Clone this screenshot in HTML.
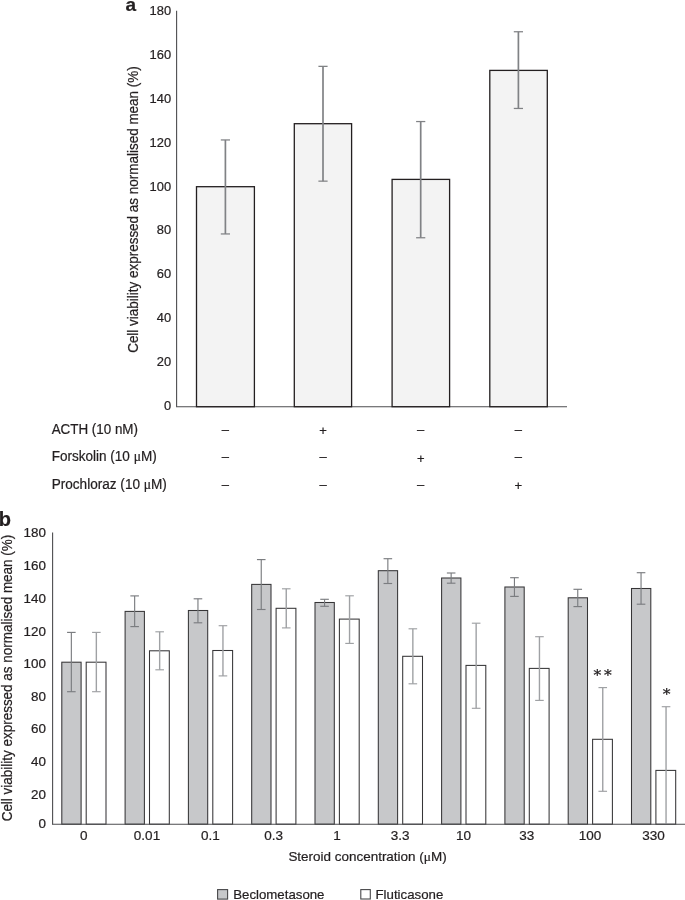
<!DOCTYPE html>
<html lang="en">
<head>
<meta charset="utf-8">
<title>Cell viability figure</title>
<style>
html,body{margin:0;padding:0;background:#fff;}
body{width:685px;height:900px;overflow:hidden;}
svg{display:block;will-change:transform;}
svg text{font-family:"Liberation Sans", Arial, Helvetica, sans-serif;stroke:#231f20;stroke-width:0.22px;}
</style>
</head>
<body>
<svg width="685" height="900" viewBox="0 0 685 900">
<rect x="0" y="0" width="685" height="900" fill="#ffffff"/>
<text x="125.40" y="10.80" font-size="19" text-anchor="start" font-weight="bold" fill="#231f20" >a</text>
<line x1="176.60" y1="10.80" x2="176.60" y2="406.70" stroke="#4d4d4f" stroke-width="1.1"/>
<line x1="176.00" y1="406.70" x2="567.00" y2="406.70" stroke="#4d4d4f" stroke-width="1.1"/>
<text transform="translate(171.10 15.29) scale(1.0 1.06)" font-size="12.9" text-anchor="end" font-weight="normal" fill="#231f20" >180</text>
<text transform="translate(171.10 59.12) scale(1.0 1.06)" font-size="12.9" text-anchor="end" font-weight="normal" fill="#231f20" >160</text>
<text transform="translate(171.10 102.95) scale(1.0 1.06)" font-size="12.9" text-anchor="end" font-weight="normal" fill="#231f20" >140</text>
<text transform="translate(171.10 146.78) scale(1.0 1.06)" font-size="12.9" text-anchor="end" font-weight="normal" fill="#231f20" >120</text>
<text transform="translate(171.10 190.61) scale(1.0 1.06)" font-size="12.9" text-anchor="end" font-weight="normal" fill="#231f20" >100</text>
<text transform="translate(171.10 234.44) scale(1.0 1.06)" font-size="12.9" text-anchor="end" font-weight="normal" fill="#231f20" >80</text>
<text transform="translate(171.10 278.27) scale(1.0 1.06)" font-size="12.9" text-anchor="end" font-weight="normal" fill="#231f20" >60</text>
<text transform="translate(171.10 322.10) scale(1.0 1.06)" font-size="12.9" text-anchor="end" font-weight="normal" fill="#231f20" >40</text>
<text transform="translate(171.10 365.93) scale(1.0 1.06)" font-size="12.9" text-anchor="end" font-weight="normal" fill="#231f20" >20</text>
<text transform="translate(171.10 409.76) scale(1.0 1.06)" font-size="12.9" text-anchor="end" font-weight="normal" fill="#231f20" >0</text>
<text transform="translate(138.4 209.55) rotate(-90)" font-size="14.6" text-anchor="middle" fill="#231f20" textLength="286.6" lengthAdjust="spacingAndGlyphs">Cell viability expressed as normalised mean (%)</text>
<rect x="196.50" y="186.70" width="57.90" height="220.00" fill="#f3f3f3" stroke="#231f20" stroke-width="1.3"/>
<rect x="294.30" y="123.70" width="57.30" height="283.00" fill="#f3f3f3" stroke="#231f20" stroke-width="1.3"/>
<rect x="392.10" y="179.40" width="57.50" height="227.30" fill="#f3f3f3" stroke="#231f20" stroke-width="1.3"/>
<rect x="489.80" y="70.40" width="57.50" height="336.30" fill="#f3f3f3" stroke="#231f20" stroke-width="1.3"/>
<line x1="225.40" y1="139.95" x2="225.40" y2="233.95" stroke="#808285" stroke-width="1.7"/>
<line x1="220.80" y1="139.95" x2="230.00" y2="139.95" stroke="#808285" stroke-width="1.25"/>
<line x1="220.80" y1="233.95" x2="230.00" y2="233.95" stroke="#808285" stroke-width="1.25"/>
<line x1="323.00" y1="66.35" x2="323.00" y2="181.15" stroke="#808285" stroke-width="1.7"/>
<line x1="318.40" y1="66.35" x2="327.60" y2="66.35" stroke="#808285" stroke-width="1.25"/>
<line x1="318.40" y1="181.15" x2="327.60" y2="181.15" stroke="#808285" stroke-width="1.25"/>
<line x1="420.70" y1="121.55" x2="420.70" y2="237.75" stroke="#808285" stroke-width="1.7"/>
<line x1="416.10" y1="121.55" x2="425.30" y2="121.55" stroke="#808285" stroke-width="1.25"/>
<line x1="416.10" y1="237.75" x2="425.30" y2="237.75" stroke="#808285" stroke-width="1.25"/>
<line x1="518.40" y1="31.75" x2="518.40" y2="108.45" stroke="#808285" stroke-width="1.7"/>
<line x1="513.80" y1="31.75" x2="523.00" y2="31.75" stroke="#808285" stroke-width="1.25"/>
<line x1="513.80" y1="108.45" x2="523.00" y2="108.45" stroke="#808285" stroke-width="1.25"/>
<text x="51.70" y="433.80" font-size="13.8" text-anchor="start" font-weight="normal" fill="#231f20" textLength="86.3" lengthAdjust="spacingAndGlyphs">ACTH (10 nM)</text>
<text x="51.70" y="461.40" font-size="13.8" text-anchor="start" font-weight="normal" fill="#231f20" textLength="105.0" lengthAdjust="spacingAndGlyphs">Forskolin (10 <tspan font-family="Liberation Serif, serif">μ</tspan>M)</text>
<text x="51.70" y="489.00" font-size="13.8" text-anchor="start" font-weight="normal" fill="#231f20" textLength="115.2" lengthAdjust="spacingAndGlyphs">Prochloraz (10 <tspan font-family="Liberation Serif, serif">μ</tspan>M)</text>
<text x="225.40" y="433.80" font-size="13" text-anchor="middle" font-weight="normal" fill="#231f20" >–</text>
<text x="323.00" y="435.00" font-size="13" text-anchor="middle" font-weight="normal" fill="#231f20" >+</text>
<text x="420.70" y="433.80" font-size="13" text-anchor="middle" font-weight="normal" fill="#231f20" >–</text>
<text x="518.40" y="433.80" font-size="13" text-anchor="middle" font-weight="normal" fill="#231f20" >–</text>
<text x="225.40" y="461.40" font-size="13" text-anchor="middle" font-weight="normal" fill="#231f20" >–</text>
<text x="323.00" y="461.40" font-size="13" text-anchor="middle" font-weight="normal" fill="#231f20" >–</text>
<text x="420.70" y="462.60" font-size="13" text-anchor="middle" font-weight="normal" fill="#231f20" >+</text>
<text x="518.40" y="461.40" font-size="13" text-anchor="middle" font-weight="normal" fill="#231f20" >–</text>
<text x="225.40" y="488.90" font-size="13" text-anchor="middle" font-weight="normal" fill="#231f20" >–</text>
<text x="323.00" y="488.90" font-size="13" text-anchor="middle" font-weight="normal" fill="#231f20" >–</text>
<text x="420.70" y="488.90" font-size="13" text-anchor="middle" font-weight="normal" fill="#231f20" >–</text>
<text x="518.40" y="490.10" font-size="13" text-anchor="middle" font-weight="normal" fill="#231f20" >+</text>
<text x="-1.30" y="525.60" font-size="20" text-anchor="start" font-weight="bold" fill="#231f20" >b</text>
<text transform="translate(46.00 537.07) scale(1.04 1.0)" font-size="12.9" text-anchor="end" font-weight="normal" fill="#231f20" >180</text>
<text transform="translate(46.00 570.07) scale(1.04 1.0)" font-size="12.9" text-anchor="end" font-weight="normal" fill="#231f20" >160</text>
<text transform="translate(46.00 602.77) scale(1.04 1.0)" font-size="12.9" text-anchor="end" font-weight="normal" fill="#231f20" >140</text>
<text transform="translate(46.00 635.67) scale(1.04 1.0)" font-size="12.9" text-anchor="end" font-weight="normal" fill="#231f20" >120</text>
<text transform="translate(46.00 668.37) scale(1.04 1.0)" font-size="12.9" text-anchor="end" font-weight="normal" fill="#231f20" >100</text>
<text transform="translate(46.00 700.67) scale(1.04 1.0)" font-size="12.9" text-anchor="end" font-weight="normal" fill="#231f20" >80</text>
<text transform="translate(46.00 733.37) scale(1.04 1.0)" font-size="12.9" text-anchor="end" font-weight="normal" fill="#231f20" >60</text>
<text transform="translate(46.00 766.27) scale(1.04 1.0)" font-size="12.9" text-anchor="end" font-weight="normal" fill="#231f20" >40</text>
<text transform="translate(46.00 799.07) scale(1.04 1.0)" font-size="12.9" text-anchor="end" font-weight="normal" fill="#231f20" >20</text>
<text transform="translate(46.00 828.07) scale(1.04 1.0)" font-size="12.9" text-anchor="end" font-weight="normal" fill="#231f20" >0</text>
<text transform="translate(12.0 678.05) rotate(-90)" font-size="14.6" text-anchor="middle" fill="#231f20" textLength="286.6" lengthAdjust="spacingAndGlyphs">Cell viability expressed as normalised mean (%)</text>
<rect x="61.80" y="662.20" width="19.30" height="162.00" fill="#c7c8ca" stroke="#363537" stroke-width="1.05"/>
<rect x="86.20" y="662.20" width="19.80" height="162.00" fill="#ffffff" stroke="#363537" stroke-width="1.05"/>
<rect x="125.10" y="611.40" width="19.30" height="212.80" fill="#c7c8ca" stroke="#363537" stroke-width="1.05"/>
<rect x="149.50" y="650.80" width="19.80" height="173.40" fill="#ffffff" stroke="#363537" stroke-width="1.05"/>
<rect x="188.40" y="610.50" width="19.30" height="213.70" fill="#c7c8ca" stroke="#363537" stroke-width="1.05"/>
<rect x="212.80" y="650.50" width="19.80" height="173.70" fill="#ffffff" stroke="#363537" stroke-width="1.05"/>
<rect x="251.70" y="584.40" width="19.30" height="239.80" fill="#c7c8ca" stroke="#363537" stroke-width="1.05"/>
<rect x="276.10" y="608.30" width="19.80" height="215.90" fill="#ffffff" stroke="#363537" stroke-width="1.05"/>
<rect x="315.00" y="602.50" width="19.30" height="221.70" fill="#c7c8ca" stroke="#363537" stroke-width="1.05"/>
<rect x="339.40" y="619.10" width="19.80" height="205.10" fill="#ffffff" stroke="#363537" stroke-width="1.05"/>
<rect x="378.30" y="570.70" width="19.30" height="253.50" fill="#c7c8ca" stroke="#363537" stroke-width="1.05"/>
<rect x="402.70" y="656.30" width="19.80" height="167.90" fill="#ffffff" stroke="#363537" stroke-width="1.05"/>
<rect x="441.60" y="578.00" width="19.30" height="246.20" fill="#c7c8ca" stroke="#363537" stroke-width="1.05"/>
<rect x="466.00" y="665.40" width="19.80" height="158.80" fill="#ffffff" stroke="#363537" stroke-width="1.05"/>
<rect x="504.90" y="587.00" width="19.30" height="237.20" fill="#c7c8ca" stroke="#363537" stroke-width="1.05"/>
<rect x="529.30" y="668.40" width="19.80" height="155.80" fill="#ffffff" stroke="#363537" stroke-width="1.05"/>
<rect x="568.20" y="597.80" width="19.30" height="226.40" fill="#c7c8ca" stroke="#363537" stroke-width="1.05"/>
<rect x="592.60" y="739.30" width="19.80" height="84.90" fill="#ffffff" stroke="#363537" stroke-width="1.05"/>
<rect x="631.50" y="588.50" width="19.30" height="235.70" fill="#c7c8ca" stroke="#363537" stroke-width="1.05"/>
<rect x="655.90" y="770.40" width="19.80" height="53.80" fill="#ffffff" stroke="#363537" stroke-width="1.05"/>
<line x1="71.35" y1="632.40" x2="71.35" y2="691.70" stroke="#7b7d80" stroke-width="1.15"/>
<line x1="67.05" y1="632.40" x2="75.65" y2="632.40" stroke="#7b7d80" stroke-width="1.15"/>
<line x1="67.05" y1="691.70" x2="75.65" y2="691.70" stroke="#7b7d80" stroke-width="1.15"/>
<line x1="96.35" y1="632.40" x2="96.35" y2="691.70" stroke="#9fa1a4" stroke-width="1.4"/>
<line x1="92.05" y1="632.40" x2="100.65" y2="632.40" stroke="#9fa1a4" stroke-width="1.15"/>
<line x1="92.05" y1="691.70" x2="100.65" y2="691.70" stroke="#9fa1a4" stroke-width="1.15"/>
<line x1="134.65" y1="595.90" x2="134.65" y2="626.60" stroke="#7b7d80" stroke-width="1.15"/>
<line x1="130.35" y1="595.90" x2="138.95" y2="595.90" stroke="#7b7d80" stroke-width="1.15"/>
<line x1="130.35" y1="626.60" x2="138.95" y2="626.60" stroke="#7b7d80" stroke-width="1.15"/>
<line x1="159.65" y1="631.80" x2="159.65" y2="669.80" stroke="#9fa1a4" stroke-width="1.4"/>
<line x1="155.35" y1="631.80" x2="163.95" y2="631.80" stroke="#9fa1a4" stroke-width="1.15"/>
<line x1="155.35" y1="669.80" x2="163.95" y2="669.80" stroke="#9fa1a4" stroke-width="1.15"/>
<line x1="197.95" y1="598.80" x2="197.95" y2="622.80" stroke="#7b7d80" stroke-width="1.15"/>
<line x1="193.65" y1="598.80" x2="202.25" y2="598.80" stroke="#7b7d80" stroke-width="1.15"/>
<line x1="193.65" y1="622.80" x2="202.25" y2="622.80" stroke="#7b7d80" stroke-width="1.15"/>
<line x1="222.95" y1="625.70" x2="222.95" y2="675.90" stroke="#9fa1a4" stroke-width="1.4"/>
<line x1="218.65" y1="625.70" x2="227.25" y2="625.70" stroke="#9fa1a4" stroke-width="1.15"/>
<line x1="218.65" y1="675.90" x2="227.25" y2="675.90" stroke="#9fa1a4" stroke-width="1.15"/>
<line x1="261.25" y1="559.60" x2="261.25" y2="609.50" stroke="#7b7d80" stroke-width="1.15"/>
<line x1="256.95" y1="559.60" x2="265.55" y2="559.60" stroke="#7b7d80" stroke-width="1.15"/>
<line x1="256.95" y1="609.50" x2="265.55" y2="609.50" stroke="#7b7d80" stroke-width="1.15"/>
<line x1="286.25" y1="588.80" x2="286.25" y2="627.90" stroke="#9fa1a4" stroke-width="1.4"/>
<line x1="281.95" y1="588.80" x2="290.55" y2="588.80" stroke="#9fa1a4" stroke-width="1.15"/>
<line x1="281.95" y1="627.90" x2="290.55" y2="627.90" stroke="#9fa1a4" stroke-width="1.15"/>
<line x1="324.55" y1="599.30" x2="324.55" y2="606.30" stroke="#7b7d80" stroke-width="1.15"/>
<line x1="320.25" y1="599.30" x2="328.85" y2="599.30" stroke="#7b7d80" stroke-width="1.15"/>
<line x1="320.25" y1="606.30" x2="328.85" y2="606.30" stroke="#7b7d80" stroke-width="1.15"/>
<line x1="349.55" y1="595.80" x2="349.55" y2="643.40" stroke="#9fa1a4" stroke-width="1.4"/>
<line x1="345.25" y1="595.80" x2="353.85" y2="595.80" stroke="#9fa1a4" stroke-width="1.15"/>
<line x1="345.25" y1="643.40" x2="353.85" y2="643.40" stroke="#9fa1a4" stroke-width="1.15"/>
<line x1="387.85" y1="558.70" x2="387.85" y2="583.50" stroke="#7b7d80" stroke-width="1.15"/>
<line x1="383.55" y1="558.70" x2="392.15" y2="558.70" stroke="#7b7d80" stroke-width="1.15"/>
<line x1="383.55" y1="583.50" x2="392.15" y2="583.50" stroke="#7b7d80" stroke-width="1.15"/>
<line x1="412.85" y1="628.80" x2="412.85" y2="683.80" stroke="#9fa1a4" stroke-width="1.4"/>
<line x1="408.55" y1="628.80" x2="417.15" y2="628.80" stroke="#9fa1a4" stroke-width="1.15"/>
<line x1="408.55" y1="683.80" x2="417.15" y2="683.80" stroke="#9fa1a4" stroke-width="1.15"/>
<line x1="451.15" y1="573.00" x2="451.15" y2="583.20" stroke="#7b7d80" stroke-width="1.15"/>
<line x1="446.85" y1="573.00" x2="455.45" y2="573.00" stroke="#7b7d80" stroke-width="1.15"/>
<line x1="446.85" y1="583.20" x2="455.45" y2="583.20" stroke="#7b7d80" stroke-width="1.15"/>
<line x1="476.15" y1="623.20" x2="476.15" y2="708.30" stroke="#9fa1a4" stroke-width="1.4"/>
<line x1="471.85" y1="623.20" x2="480.45" y2="623.20" stroke="#9fa1a4" stroke-width="1.15"/>
<line x1="471.85" y1="708.30" x2="480.45" y2="708.30" stroke="#9fa1a4" stroke-width="1.15"/>
<line x1="514.45" y1="577.70" x2="514.45" y2="596.40" stroke="#7b7d80" stroke-width="1.15"/>
<line x1="510.15" y1="577.70" x2="518.75" y2="577.70" stroke="#7b7d80" stroke-width="1.15"/>
<line x1="510.15" y1="596.40" x2="518.75" y2="596.40" stroke="#7b7d80" stroke-width="1.15"/>
<line x1="539.45" y1="636.70" x2="539.45" y2="700.40" stroke="#9fa1a4" stroke-width="1.4"/>
<line x1="535.15" y1="636.70" x2="543.75" y2="636.70" stroke="#9fa1a4" stroke-width="1.15"/>
<line x1="535.15" y1="700.40" x2="543.75" y2="700.40" stroke="#9fa1a4" stroke-width="1.15"/>
<line x1="577.75" y1="589.30" x2="577.75" y2="606.60" stroke="#7b7d80" stroke-width="1.15"/>
<line x1="573.45" y1="589.30" x2="582.05" y2="589.30" stroke="#7b7d80" stroke-width="1.15"/>
<line x1="573.45" y1="606.60" x2="582.05" y2="606.60" stroke="#7b7d80" stroke-width="1.15"/>
<line x1="602.75" y1="687.60" x2="602.75" y2="791.30" stroke="#9fa1a4" stroke-width="1.4"/>
<line x1="598.45" y1="687.60" x2="607.05" y2="687.60" stroke="#9fa1a4" stroke-width="1.15"/>
<line x1="598.45" y1="791.30" x2="607.05" y2="791.30" stroke="#9fa1a4" stroke-width="1.15"/>
<line x1="641.05" y1="572.70" x2="641.05" y2="604.20" stroke="#7b7d80" stroke-width="1.15"/>
<line x1="636.75" y1="572.70" x2="645.35" y2="572.70" stroke="#7b7d80" stroke-width="1.15"/>
<line x1="636.75" y1="604.20" x2="645.35" y2="604.20" stroke="#7b7d80" stroke-width="1.15"/>
<line x1="666.05" y1="706.70" x2="666.05" y2="824.20" stroke="#9fa1a4" stroke-width="1.4"/>
<line x1="661.75" y1="706.70" x2="670.35" y2="706.70" stroke="#9fa1a4" stroke-width="1.15"/>
<line x1="52.60" y1="532.50" x2="52.60" y2="824.20" stroke="#4d4d4f" stroke-width="1.1"/>
<line x1="52.00" y1="824.20" x2="685.00" y2="824.20" stroke="#4d4d4f" stroke-width="1.15"/>
<text transform="translate(83.70 840.10) scale(1.04 1.0)" font-size="13.0" text-anchor="middle" font-weight="normal" fill="#231f20" >0</text>
<text transform="translate(147.00 840.10) scale(1.04 1.0)" font-size="13.0" text-anchor="middle" font-weight="normal" fill="#231f20" >0.01</text>
<text transform="translate(210.30 840.10) scale(1.04 1.0)" font-size="13.0" text-anchor="middle" font-weight="normal" fill="#231f20" >0.1</text>
<text transform="translate(273.60 840.10) scale(1.04 1.0)" font-size="13.0" text-anchor="middle" font-weight="normal" fill="#231f20" >0.3</text>
<text transform="translate(336.90 840.10) scale(1.04 1.0)" font-size="13.0" text-anchor="middle" font-weight="normal" fill="#231f20" >1</text>
<text transform="translate(400.20 840.10) scale(1.04 1.0)" font-size="13.0" text-anchor="middle" font-weight="normal" fill="#231f20" >3.3</text>
<text transform="translate(463.50 840.10) scale(1.04 1.0)" font-size="13.0" text-anchor="middle" font-weight="normal" fill="#231f20" >10</text>
<text transform="translate(526.80 840.10) scale(1.04 1.0)" font-size="13.0" text-anchor="middle" font-weight="normal" fill="#231f20" >33</text>
<text transform="translate(590.10 840.10) scale(1.04 1.0)" font-size="13.0" text-anchor="middle" font-weight="normal" fill="#231f20" >100</text>
<text transform="translate(653.40 840.10) scale(1.04 1.0)" font-size="13.0" text-anchor="middle" font-weight="normal" fill="#231f20" >330</text>
<text x="597.40" y="679.60" font-size="15.5" text-anchor="middle" font-weight="normal" fill="#231f20" style="font-family:'DejaVu Serif','Liberation Serif',serif">*</text>
<text x="607.90" y="679.60" font-size="15.5" text-anchor="middle" font-weight="normal" fill="#231f20" style="font-family:'DejaVu Serif','Liberation Serif',serif">*</text>
<text x="666.50" y="699.30" font-size="15.5" text-anchor="middle" font-weight="normal" fill="#231f20" style="font-family:'DejaVu Serif','Liberation Serif',serif">*</text>
<text x="288.40" y="861.30" font-size="13.3" text-anchor="start" font-weight="normal" fill="#231f20" textLength="158.3" lengthAdjust="spacingAndGlyphs">Steroid concentration (<tspan font-family="Liberation Serif, serif">μ</tspan>M)</text>
<rect x="217.6" y="889.6" width="10.0" height="9.5" fill="#c7c8ca" stroke="#48484a" stroke-width="1.1"/>
<text x="233.20" y="898.60" font-size="13.3" text-anchor="start" font-weight="normal" fill="#231f20" textLength="91.3" lengthAdjust="spacingAndGlyphs">Beclometasone</text>
<rect x="360.8" y="889.6" width="9.5" height="9.4" fill="#ffffff" stroke="#48484a" stroke-width="1.1"/>
<text x="375.50" y="898.60" font-size="13.3" text-anchor="start" font-weight="normal" fill="#231f20" textLength="67.8" lengthAdjust="spacingAndGlyphs">Fluticasone</text>
</svg>
</body>
</html>
